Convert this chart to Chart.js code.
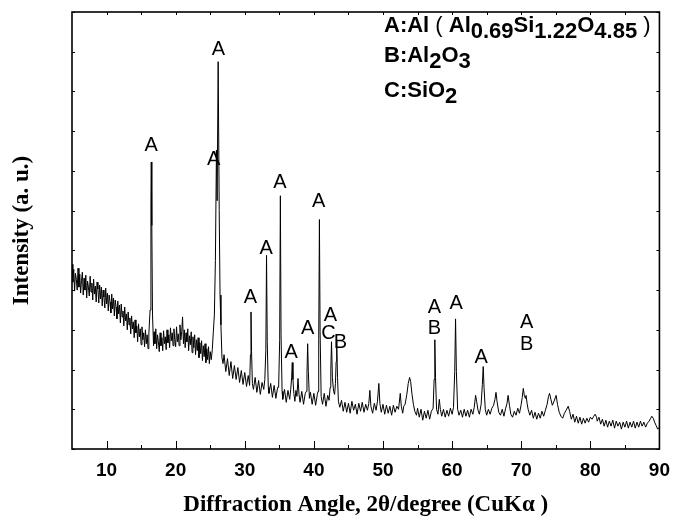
<!DOCTYPE html>
<html>
<head>
<meta charset="utf-8">
<script src="https://cdn.jsdelivr.net/npm/chart.js@4.4.0/dist/chart.umd.min.js"></script>
<style>
  html, body { margin: 0; padding: 0; background: #fff; }
</style>
</head>
<body>
<canvas id="xrdChart" width="680" height="526"></canvas>
<script>
// XRD scan: 2theta (deg) and intensity (a.u.)
var angle = [
  5.000, 5.125, 5.250, 5.375, 5.500, 5.625, 5.750, 5.875,
  6.000, 6.125, 6.250, 6.375, 6.500, 6.625, 6.750, 6.875,
  7.000, 7.125, 7.250, 7.375, 7.500, 7.625, 7.750, 7.875,
  8.000, 8.125, 8.250, 8.375, 8.500, 8.625, 8.750, 8.875,
  9.000, 9.125, 9.250, 9.375, 9.500, 9.625, 9.750, 9.875,
  10.000, 10.125, 10.250, 10.375, 10.500, 10.625, 10.750, 10.875,
  11.000, 11.125, 11.250, 11.375, 11.500, 11.625, 11.750, 11.875,
  12.000, 12.125, 12.250, 12.375, 12.500, 12.625, 12.750, 12.875,
  13.000, 13.125, 13.250, 13.375, 13.500, 13.625, 13.750, 13.875,
  14.000, 14.125, 14.250, 14.375, 14.500, 14.625, 14.750, 14.875,
  15.000, 15.125, 15.250, 15.375, 15.500, 15.625, 15.750, 15.875,
  16.000,
  16.12, 16.30, 16.42, 16.47, 16.55, 16.65, 16.80,
  16.875, 17.000, 17.125, 17.250, 17.375, 17.500, 17.625, 17.750,
  17.875, 18.000, 18.125, 18.250, 18.375, 18.500, 18.625, 18.750,
  18.875, 19.000, 19.125, 19.250, 19.375, 19.500, 19.625, 19.750,
  19.875, 20.000, 20.125, 20.250, 20.375, 20.500, 20.625, 20.750,
  20.875, 21.000, 21.125, 21.250, 21.375, 21.500, 21.625, 21.750,
  21.875, 22.000, 22.125, 22.250, 22.375, 22.500, 22.625, 22.750,
  22.875, 23.000, 23.125, 23.250, 23.375, 23.500, 23.625, 23.750,
  23.875, 24.000, 24.125, 24.250, 24.375, 24.500, 24.625, 24.750,
  24.875, 25.000,
  25.15, 25.30, 25.45, 25.60, 25.75, 25.90, 26.00, 26.15, 26.30, 26.42, 26.55, 26.70,
  26.85, 27.00, 27.25, 27.50, 27.75, 28.00, 28.25, 28.50, 28.75, 29.00, 29.25, 29.50,
  29.75, 30.00, 30.25, 30.50, 30.70, 30.82, 30.90, 30.98, 31.10, 31.25, 31.50, 31.75,
  32.00, 32.25, 32.50, 32.75, 32.90, 33.05, 33.15, 33.25, 33.40, 33.50, 33.75, 34.00,
  34.25, 34.50, 34.75, 34.90, 35.05, 35.15, 35.25, 35.40, 35.50, 35.75, 36.00, 36.25,
  36.50, 36.65, 36.78, 36.87, 36.97, 37.10, 37.25, 37.40, 37.55, 37.70, 37.85, 38.00,
  38.25, 38.50, 38.75, 38.90, 39.00, 39.10, 39.20, 39.35, 39.50, 39.75, 40.00, 40.25,
  40.50, 40.60, 40.70, 40.80, 40.90, 41.05, 41.25, 41.50, 41.75, 42.00, 42.20, 42.35,
  42.45, 42.55, 42.68, 42.85, 43.00, 43.12, 43.22, 43.30, 43.42, 43.55, 43.75, 44.00,
  44.25, 44.50, 44.75, 45.00, 45.25, 45.50, 45.75, 46.00, 46.25, 46.50, 46.75, 47.00,
  47.25, 47.50, 47.75, 47.95, 48.10, 48.25, 48.50, 48.75, 49.00, 49.20, 49.40, 49.55,
  49.75, 50.00, 50.25, 50.50, 50.75, 51.00, 51.25, 51.50, 51.75, 52.00, 52.25, 52.50,
  52.65, 52.85, 53.00, 53.20, 53.45, 53.65, 53.85, 54.00, 54.20, 54.40, 54.60, 54.85,
  55.00, 55.25, 55.50, 55.75, 56.00, 56.25, 56.50, 56.75, 57.00, 57.25, 57.40, 57.50,
  57.60, 57.75, 57.95, 58.15, 58.30, 58.50, 58.75, 59.00, 59.25, 59.50, 59.75, 60.00,
  60.20, 60.38, 60.50, 60.62, 60.80, 61.00, 61.25, 61.50, 61.75, 62.00, 62.25, 62.50,
  62.75, 63.00, 63.20, 63.40, 63.55, 63.75, 63.95, 64.20, 64.38, 64.50, 64.62, 64.80,
  65.00, 65.25, 65.50, 65.75, 66.00, 66.20, 66.35, 66.50, 66.75, 67.00, 67.25, 67.50,
  67.75, 67.95, 68.10, 68.30, 68.50, 68.75, 69.00, 69.25, 69.50, 69.75, 70.00, 70.15,
  70.30, 70.45, 70.60, 70.70, 70.85, 71.00, 71.25, 71.50, 71.75, 72.00, 72.25, 72.50,
  72.75, 73.00, 73.25, 73.50, 73.75, 73.95, 74.10, 74.30, 74.50, 74.75, 75.05, 75.25,
  75.50, 75.75, 76.00, 76.25, 76.50, 76.80, 77.00, 77.25, 77.50, 77.75, 78.00, 78.25,
  78.50, 78.75, 79.00, 79.25, 79.50, 79.75, 80.00, 80.25, 80.50, 80.70, 80.90, 81.00,
  81.25, 81.50, 81.75, 82.00, 82.25, 82.50, 82.75, 83.00, 83.25, 83.50, 83.75, 84.00,
  84.25, 84.50, 84.75, 85.00, 85.25, 85.50, 85.75, 86.00, 86.25, 86.50, 86.75, 87.00,
  87.25, 87.50, 87.75, 88.00, 88.25, 88.50, 88.75, 88.90, 89.10, 89.30, 89.50, 89.75,
  90.00
];
var intensity = [
  186, 168, 181, 159, 177, 171, 160, 182,
  163, 176, 157, 170, 178, 155, 172, 160,
  175, 152, 169, 163, 154, 174, 158, 167,
  150, 171, 156, 164, 148, 168, 161, 147,
  165, 151, 163, 144, 160, 153, 142, 162,
  146, 157, 139, 155, 148, 137, 156, 141,
  152, 134, 150, 143, 131, 149, 136, 145,
  127, 146, 133, 139, 124, 143, 129, 136,
  120, 138, 125, 132, 116, 134, 121, 128,
  112, 130, 117, 124, 108, 126, 113, 121,
  105, 123, 110, 117, 103, 120, 106, 115,
  101,
  116, 140, 250, 289, 225, 135, 104,
  118, 106, 121, 101, 115, 108, 98, 117,
  104, 112, 99, 119, 106, 113, 100, 120,
  107, 115, 102, 122, 109, 117, 104, 121,
  110, 103, 123, 108, 116, 104, 125, 110,
  118, 133, 106, 120, 102, 117, 108, 121,
  99, 114, 105, 118, 97, 113, 102, 115,
  95, 110, 99, 112, 92, 107, 96, 109,
  89, 104, 93, 106, 87, 101, 90, 103,
  86, 98,
  90, 100, 118, 135, 190, 301, 250, 390, 240, 155, 125, 92,
  86, 95, 78, 91, 74, 88, 71, 84, 70, 82, 67, 79,
  65, 77, 63, 74, 64, 95, 138, 98, 66, 60, 72, 57,
  69, 55, 67, 60, 70, 100, 195, 108, 62, 56, 66, 52,
  64, 51, 62, 62, 110, 255, 115, 58, 50, 60, 47, 59,
  50, 60, 72, 87, 70, 56, 48, 59, 53, 71, 55, 47,
  58, 45, 56, 58, 76, 106, 78, 51, 57, 45, 56, 44,
  55, 58, 110, 231, 118, 53, 45, 56, 43, 54, 49, 62,
  80, 108, 72, 58, 55, 66, 88, 109, 72, 48, 42, 49,
  38, 47, 37, 46, 36, 48, 39, 45, 35, 46, 38, 47,
  37, 45, 39, 46, 59, 43, 36, 46, 39, 48, 66, 46,
  37, 45, 35, 44, 36, 43, 34, 44, 37, 43, 40, 56,
  43, 36, 43, 45, 55, 66, 72, 68, 55, 45, 38, 34,
  41, 32, 40, 29, 38, 31, 39, 30, 38, 41, 70, 110,
  72, 40, 35, 50, 40, 33, 40, 32, 39, 33, 41, 35,
  42, 78, 131, 78, 40, 34, 39, 32, 40, 33, 39, 32,
  40, 35, 42, 54, 48, 39, 35, 45, 65, 83, 62, 40,
  34, 40, 35, 41, 44, 50, 57, 48, 37, 34, 40, 33,
  41, 46, 54, 44, 35, 32, 38, 34, 41, 36, 45, 52,
  61, 54, 51, 54, 46, 40, 34, 39, 31, 37, 30, 36,
  31, 38, 33, 39, 45, 53, 56, 50, 44, 48, 54, 45,
  37, 33, 31, 36, 39, 43, 38, 30, 35, 27, 33, 26,
  32, 25, 31, 26, 31, 27, 32, 30, 33, 35, 32, 28,
  32, 25, 30, 23, 29, 22, 28, 23, 29, 21, 28, 23,
  27, 20, 27, 22, 28, 21, 27, 22, 28, 21, 27, 22,
  28, 23, 27, 22, 26, 28, 31, 33, 31, 27, 24, 20,
  22
];

var xTickLabels = [10, 20, 30, 40, 50, 60, 70, 80, 90];
var xMinorTicks = [15, 25, 35, 45, 55, 65, 75, 85];

// phase letters over the peaks
var peakText   = ["A", "A", "A", "A", "A", "A", "A", "A", "A", "A", "C", "B", "A", "B", "A", "A", "A", "B"];
var peakAngle  = [16.47, 26.2, 25.5, 30.8, 33.1, 35.1, 36.7, 39.1, 40.7, 42.4, 42.1, 43.85, 57.45, 57.45, 60.6, 64.2, 70.8, 70.8];
var peakHeight = [306, 402, 292, 153, 202, 268, 97, 121, 249, 134, 116, 107, 142, 121, 147, 92, 127, 105];

// phase key, [text, kind]: 0 normal, 1 subscript, 2 light bracket
var keyLines = [
  [["A:Al", 0], [" ( ", 2], ["Al", 0], ["0.69", 1], ["Si", 0], ["1.22", 1], ["O", 0], ["4.85", 1], [" )", 2]],
  [["B:Al", 0], ["2", 1], ["O", 0], ["3", 1]],
  [["C:SiO", 0], ["2", 1]]
];

var points = angle.map(function (a, i) { return { x: a, y: intensity[i] }; });

var framePlugin = {
  id: "frameTicks",
  afterDatasetsDraw: function (chart) {
    var ctx = chart.ctx;
    var area = chart.chartArea;
    var xs = chart.scales.x;
    var ys = chart.scales.y;
    ctx.save();
    ctx.strokeStyle = "#000";
    ctx.lineWidth = 1;
    ctx.beginPath();
    xTickLabels.forEach(function (v) {
      var px = Math.round(xs.getPixelForValue(v)) + 0.5;
      ctx.moveTo(px, area.bottom); ctx.lineTo(px, area.bottom - 8);
      ctx.moveTo(px, area.top); ctx.lineTo(px, area.top + 3);
    });
    xMinorTicks.forEach(function (v) {
      var px = Math.round(xs.getPixelForValue(v)) + 0.5;
      ctx.moveTo(px, area.bottom); ctx.lineTo(px, area.bottom - 4);
      ctx.moveTo(px, area.top); ctx.lineTo(px, area.top + 3);
    });
    ys.ticks.forEach(function (t) {
      var py = Math.round(ys.getPixelForValue(t.value)) + 0.5;
      ctx.moveTo(area.left, py); ctx.lineTo(area.left + 3, py);
      ctx.moveTo(area.right, py); ctx.lineTo(area.right - 3, py);
    });
    ctx.stroke();
    ctx.lineWidth = 1.6;
    ctx.strokeRect(area.left, area.top, area.right - area.left, area.bottom - area.top);

    // peak letters
    ctx.fillStyle = "#000";
    ctx.font = "20px 'Liberation Sans'";
    ctx.textAlign = "center";
    ctx.textBaseline = "middle";
    peakText.forEach(function (t, i) {
      ctx.fillText(t, xs.getPixelForValue(peakAngle[i]), ys.getPixelForValue(peakHeight[i]));
    });

    // phase key
    ctx.textAlign = "left";
    ctx.textBaseline = "alphabetic";
    var baselines = [32, 62, 97];
    keyLines.forEach(function (line, li) {
      var x = 384;
      line.forEach(function (seg) {
        ctx.font = (seg[1] === 2 ? "" : "bold ") + "22px 'Liberation Sans'";
        var y = baselines[li] + (seg[1] === 1 ? 6 : 0);
        ctx.fillText(seg[0], x, y);
        x += ctx.measureText(seg[0]).width;
      });
    });
    ctx.restore();
  }
};

var ctx = document.getElementById("xrdChart");

new Chart(ctx, {
  type: "line",
  data: {
    datasets: [
      {
        data: points,
        borderColor: "#000",
        borderWidth: 1,
        pointRadius: 0,
        tension: 0,
        fill: false
      }
    ]
  },
  options: {
    responsive: false,
    animation: false,
    devicePixelRatio: 1,
    layout: { padding: { top: 12, right: 15, left: 0, bottom: 0 } },
    plugins: { legend: { display: false }, tooltip: { enabled: false } },
    scales: {
      x: {
        type: "linear",
        min: 5,
        max: 90,
        grid: { display: false, drawTicks: false },
        border: { display: false },
        afterBuildTicks: function (scale) {
          scale.ticks = xTickLabels.map(function (v) { return { value: v }; });
        },
        ticks: {
          color: "#000",
          padding: 10,
          maxRotation: 0,
          autoSkip: false,
          font: { family: "Liberation Sans", size: 19, weight: "bold" }
        },
        title: {
          display: true,
          text: "Diffraction Angle, 2θ/degree (CuKα )",
          color: "#000",
          padding: { top: 0, bottom: 7 },
          font: { family: "Liberation Serif", size: 23, weight: "bold" }
        },
        afterFit: function (scale) { scale.height = 77; }
      },
      y: {
        min: 0,
        max: 440,
        grid: { display: false, drawTicks: false },
        border: { display: false },
        ticks: { display: false, stepSize: 40 },
        title: {
          display: true,
          text: "Intensity (a. u.)",
          color: "#000",
          padding: { top: 8, bottom: 0 },
          font: { family: "Liberation Serif", size: 23, weight: "bold" }
        },
        afterFit: function (scale) { scale.width = 72; }
      }
    }
  },
  plugins: [framePlugin]
});
</script>
</body>
</html>
